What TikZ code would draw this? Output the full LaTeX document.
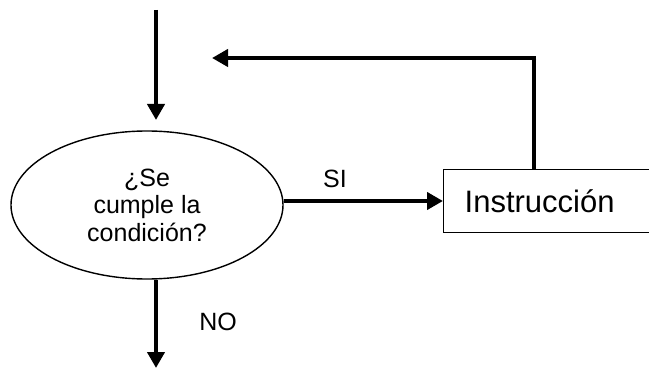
\documentclass[tikz,border=0pt]{standalone}
\usepackage{fontspec}
\setmainfont{Liberation Sans}
\usetikzlibrary{shapes.geometric,arrows.meta}
\begin{document}
\begin{tikzpicture}[x=1pt,y=-1pt,
  flow/.style={line width=4.5pt,-{Triangle[length=16pt,width=17pt]}},
  plainflow/.style={line width=4.5pt},
  lbl/.style={font=\fontsize{25}{28}\selectfont,inner sep=0pt}]
\useasboundingbox (0,0) rectangle (649,369);
\node[draw,ellipse,line width=1.4pt,minimum width=272pt,minimum height=148pt,inner sep=0pt,
      align=center,font=\fontsize{25}{27.5}\selectfont] (cond) at (147,205) {¿Se\\cumple la\\condición?};
\node[draw,rectangle,line width=1.4pt,anchor=west,minimum height=63pt,inner xsep=21pt,
      text width=200pt,align=left,font=\fontsize{31}{34}\selectfont] (instr) at (443,201) {Instrucción};
\coordinate (topstart) at (156,10);
\coordinate (topend) at (156,120);
\coordinate (botend) at (156,368);
\coordinate (corner) at (534,58);
\coordinate (backend) at (212,58);
\draw[flow] (topstart) -- (topend);
\draw[flow] (cond.south -| botend) -- (botend);
\draw[flow] (cond.east |- instr.west) -- (instr.west);
\draw[plainflow] (instr.north -| corner) -- ([yshift=-2.25pt]corner);
\draw[flow] ([xshift=2.25pt]corner) -- (backend);
\node[lbl] (si) at (335,179) {SI};
\node[lbl] (no) at (218,322) {NO};
\end{tikzpicture}
\end{document}
